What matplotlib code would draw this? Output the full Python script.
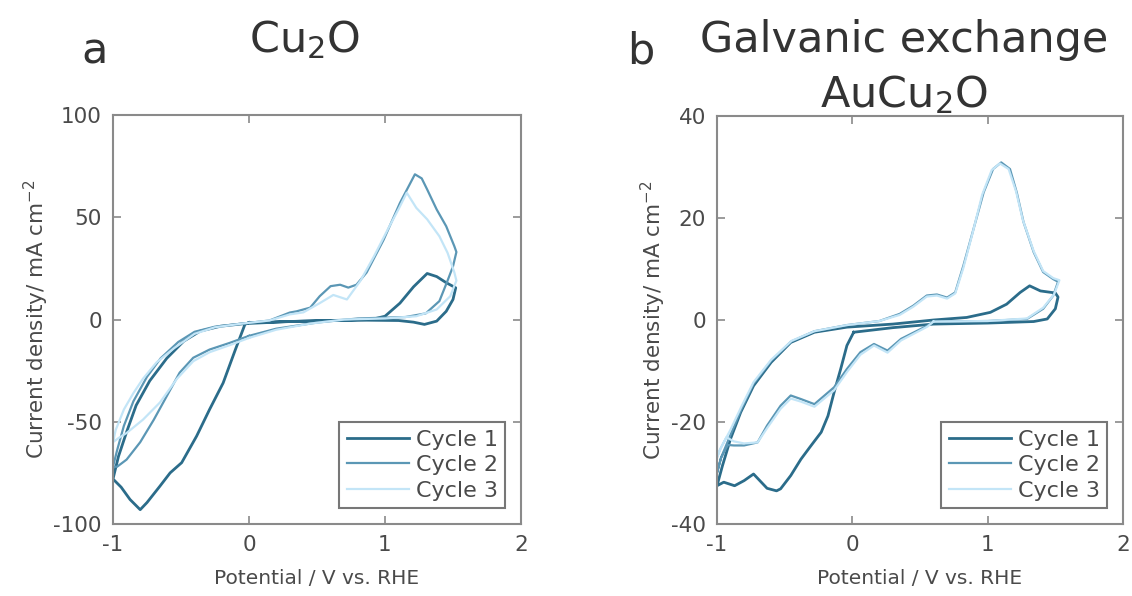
import matplotlib
matplotlib.use("Agg")
import matplotlib.pyplot as plt

# ---------------- data: panel a (Cu2O) ----------------
a_c1_E = [0.00, -0.03, -0.10, -0.19, -0.29, -0.385, -0.495, -0.58, -0.655, -0.75, -0.80, -0.875, -0.94, -1.00,
          -0.96, -0.90, -0.83, -0.73, -0.605, -0.48, -0.36, -0.21, -0.03, 0.30, 0.60, 0.90, 1.00, 1.11, 1.21,
          1.31, 1.38, 1.45, 1.52, 1.50, 1.45, 1.38, 1.29, 1.21, 1.10, 0.80, 0.40, 0.00]
a_c1_j = [-1.5, -2.4, -14.7, -31, -44, -57, -70, -75, -81.5, -89.5, -93, -88, -82, -78,
          -67, -55, -42, -30, -19, -10.6, -5.7, -3.3, -2.0, -1.0, -0.5, 0.0, 1.6, 8, 16,
          22.5, 21, 18, 15.5, 9.8, 4, -0.8, -2.4, -1.3, -0.5, -0.3, -0.8, -1.5]

a_c2_E = [0.00, -0.14, -0.29, -0.41, -0.51, -0.605, -0.70, -0.80, -0.90, -0.97, -1.00, -0.97, -0.92, -0.85,
          -0.75, -0.65, -0.52, -0.40, -0.25, -0.05, 0.15, 0.30, 0.35, 0.45, 0.52, 0.60, 0.67, 0.73, 0.79,
          0.865, 0.99, 1.11, 1.22, 1.27, 1.31, 1.38, 1.45, 1.51, 1.525, 1.50, 1.46, 1.40, 1.30, 1.15, 0.80,
          0.50, 0.35, 0.20, 0.00]
a_c2_j = [-8, -11.4, -14.7, -18.7, -26, -37.5, -49, -60, -68.5, -72, -72, -64, -52, -40,
          -28, -19, -11, -6, -3.5, -2, -0.5, 3.4, 4, 5.8, 11.4, 16.3, 17, 15.6, 17,
          23, 39, 57, 71, 69, 63.6, 53.8, 45.6, 35.8, 33, 26, 19, 9, 3, 1.2, 0.5,
          -1.5, -3, -4.5, -8]

a_c3_E = [0.00, -0.14, -0.29, -0.41, -0.53, -0.655, -0.78, -0.90, -0.96, -1.00, -0.98, -0.92, -0.85, -0.78,
          -0.68, -0.55, -0.40, -0.25, -0.05, 0.15, 0.30, 0.40, 0.52, 0.62, 0.72, 0.82, 0.92, 1.02, 1.10,
          1.16, 1.23, 1.31, 1.40, 1.46, 1.51, 1.525, 1.48, 1.38, 1.23, 1.00, 0.70, 0.45, 0.20, 0.00]
a_c3_j = [-9, -12.5, -16, -20.4, -29, -40.6, -49, -55.5, -58, -60, -54, -44, -36, -29,
          -21, -14, -7, -3.8, -2, -0.5, 2.5, 3.5, 8, 12, 9.8, 19, 31, 44, 54,
          62, 54.6, 49, 40.7, 32.6, 23, 19, 11.4, 4.9, 1.6, 0.5, 0, -2, -5, -9]

# ---------------- data: panel b (Galvanic exchange AuCu2O) ----------------
b_c1_E = [0.01, -0.04, -0.086, -0.135, -0.18, -0.23, -0.31, -0.38, -0.455, -0.53, -0.56, -0.63, -0.73, -0.80,
          -0.87, -0.95, -1.00, -0.96, -0.90, -0.825, -0.73, -0.60, -0.455, -0.28, -0.04, 0.30, 0.60, 0.845,
          1.02, 1.14, 1.24, 1.31, 1.39, 1.50, 1.52, 1.50, 1.44, 1.34, 1.00, 0.60, 0.30, 0.01]
b_c1_j = [-2.4, -5, -9.6, -14.2, -18.8, -22, -24.8, -27.3, -30.5, -33.1, -33.5, -33, -30.2, -31.5,
          -32.5, -31.8, -32.5, -28.6, -23.3, -18.1, -12.9, -8.3, -4.4, -2.4, -1.4, -0.8, 0.0, 0.5,
          1.5, 3.1, 5.4, 6.7, 5.7, 5.3, 4.5, 2.2, 0.2, -0.3, -0.6, -0.8, -1.5, -2.4]

b_c2_E = [0.60, 0.555, 0.36, 0.26, 0.16, 0.06, -0.04, -0.135, -0.28, -0.38, -0.455, -0.53, -0.63, -0.70,
          -0.80, -0.875, -0.92, -0.97, -1.00, -0.97, -0.90, -0.82, -0.73, -0.60, -0.45, -0.28, -0.04, 0.20,
          0.35, 0.45, 0.55, 0.625, 0.70, 0.76, 0.82, 0.895, 0.97, 1.04, 1.10, 1.165, 1.215, 1.265, 1.34,
          1.41, 1.485, 1.52, 1.485, 1.41, 1.29, 1.00, 0.60]
b_c2_j = [-0.3, -1.1, -3.7, -6, -4.7, -6.3, -9.6, -13.2, -16.5, -15.5, -14.8, -16.8, -20.7, -24,
          -24.6, -24.6, -24.5, -27, -30, -27, -22.5, -17.5, -12.5, -8, -4.2, -2.2, -1.0, -0.2,
          1.2, 2.8, 4.8, 5, 4.4, 5.4, 10.6, 17.8, 25, 29.6, 30.9, 29.6, 25, 19.2, 13.3,
          9.4, 8, 7.5, 4.8, 2.2, 0.2, -0.2, -0.3]

b_c3_E = [0.60, 0.555, 0.36, 0.26, 0.16, 0.06, -0.04, -0.135, -0.28, -0.38, -0.455, -0.53, -0.63, -0.70,
          -0.80, -0.875, -0.93, -0.98, -1.00, -0.97, -0.90, -0.82, -0.73, -0.60, -0.45, -0.28, -0.04, 0.20,
          0.35, 0.45, 0.55, 0.625, 0.70, 0.76, 0.82, 0.89, 0.96, 1.03, 1.09, 1.155, 1.21, 1.26, 1.34,
          1.41, 1.485, 1.53, 1.49, 1.41, 1.29, 1.00, 0.60]
b_c3_j = [-0.3, -1.3, -4.0, -6.4, -5.0, -6.8, -10.2, -13.8, -17.0, -16.0, -15.4, -17.4, -21.2, -24,
          -24.2, -23.8, -23.0, -25.5, -27, -25, -21.5, -17, -12.2, -7.8, -4.1, -2.2, -1.0, -0.2,
          1.0, 2.6, 4.6, 4.8, 4.2, 5.2, 10.2, 17.2, 24.6, 29.4, 30.7, 29.6, 25.2, 19.6, 13.5,
          9.6, 8.2, 7.8, 5.0, 2.4, 0.3, -0.2, -0.3]

cycle_labels = ["Cycle 1", "Cycle 2", "Cycle 3"]
a_xticks = [-1, 0, 1, 2]
a_yticks = [-100, -50, 0, 50, 100]
b_xticks = [-1, 0, 1, 2]
b_yticks = [-40, -20, 0, 20, 40]

# ---------------- styling ----------------
colors = ["#2b6c8a", "#5b97b5", "#c3e5f7"]
widths = [2.0, 1.6, 1.6]
txt = "#4a4a4a"
spine = "#8a8a8a"
plt.rcParams['font.family'] = ['DejaVu Sans']
plt.rcParams['axes.unicode_minus'] = False

fig = plt.figure(figsize=(11.32, 5.96), dpi=100)
axA = fig.add_axes([113/1132, 1 - 524/596, 408/1132, 409/596])
axB = fig.add_axes([717/1132, 1 - 524/596, 406/1132, 408/596])

panels = [
    (axA, [(a_c1_E, a_c1_j), (a_c2_E, a_c2_j), (a_c3_E, a_c3_j)], (-100, 100), a_yticks, a_xticks),
    (axB, [(b_c1_E, b_c1_j), (b_c2_E, b_c2_j), (b_c3_E, b_c3_j)], (-40, 40), b_yticks, b_xticks),
]

for ax, series, ylim, yt, xt in panels:
    for (E, j), c, lw, lab in zip(series, colors, widths, cycle_labels):
        ax.plot(E, j, color=c, lw=lw, label=lab, solid_joinstyle='round')
    ax.set_xlim(-1, 2)
    ax.set_ylim(*ylim)
    ax.set_xticks(xt)
    ax.set_yticks(yt)
    ax.tick_params(direction='in', top=True, right=True, length=6, width=1.2,
                   color=spine, labelcolor=txt, labelsize=15.5, pad=8)
    for s in ax.spines.values():
        s.set_color(spine)
        s.set_linewidth(1.5)
    ax.set_xlabel("Potential / V vs. RHE", fontsize=14.5, color=txt, labelpad=10)
    ax.set_ylabel("Current density/ mA cm$^{-2}$", fontsize=15.5, color=txt, labelpad=2)
    leg = ax.legend(loc='lower right', fontsize=16, frameon=True, fancybox=False,
                    handlelength=2.8, handletextpad=0.3, borderpad=0.35, labelspacing=0.25,
                    borderaxespad=0.7)
    leg.get_frame().set_edgecolor('#555555')
    leg.get_frame().set_linewidth(1.5)
    for t in leg.get_texts():
        t.set_color(txt)

fig.text(305/1132, 1 - 40/596, "Cu$_2$O", fontsize=31, color="#333333", ha='center', va='center')
fig.text(95/1132, 1 - 52/596, "a", fontsize=31, color="#333333", ha='center', va='center')
fig.text(904/1132, 1 - 40/596, "Galvanic exchange", fontsize=31, color="#333333", ha='center', va='center')
fig.text(904/1132, 1 - 95/596, "AuCu$_2$O", fontsize=31, color="#333333", ha='center', va='center')
fig.text(641/1132, 1 - 52/596, "b", fontsize=31, color="#333333", ha='center', va='center')

fig.savefig("out.png", dpi=100)
